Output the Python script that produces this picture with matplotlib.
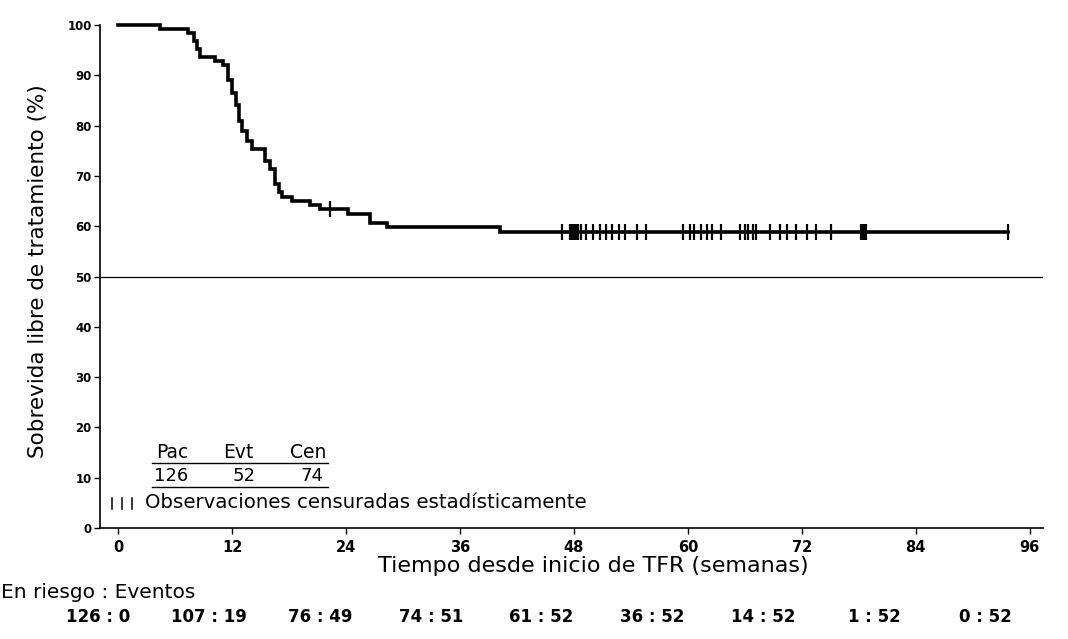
import numpy as np
import matplotlib
matplotlib.use("Agg")
import matplotlib.pyplot as plt
from matplotlib.lines import Line2D

# ---------------- data ----------------
step_times = [0, 4.4, 7.4, 8.0, 8.3, 8.6, 10.2, 11.0, 11.6, 12.0, 12.4, 12.7, 13.1,
              13.6, 14.1, 15.5, 16.0, 16.5, 17.0, 17.3, 18.3, 20.2, 21.3, 24.2,
              26.5, 28.3, 40.2]
step_surv = [100, 99.2, 98.4, 96.8, 95.2, 93.7, 92.9, 92.1, 89.0, 86.5, 84.1, 81.0,
             79.0, 77.0, 75.4, 73.0, 71.4, 68.3, 66.7, 65.9, 65.1, 64.3, 63.5, 62.4,
             60.7, 59.9, 58.8]
end_time = 93.7
censor_times = [22.3, 46.7, 47.6, 47.8, 48.0, 48.2, 48.4, 48.8, 49.3, 50.0, 50.7,
                51.4, 52.0, 52.7, 53.4, 54.6, 55.6, 59.5, 60.2, 60.7, 61.4, 62.0,
                62.5, 63.5, 65.5, 66.0, 66.3, 66.9, 67.2, 68.6, 69.7, 70.4, 71.4,
                72.5, 73.5, 75.1, 78.2, 78.4, 78.6, 78.8, 93.7]
ref_level = 50
x_ticks = [0, 12, 24, 36, 48, 60, 72, 84, 96]
y_ticks = [0, 10, 20, 30, 40, 50, 60, 70, 80, 90, 100]
risk_at = [126, 107, 76, 74, 61, 36, 14, 1, 0]
events_at = [0, 19, 49, 51, 52, 52, 52, 52, 52]
table_header = ["Pac", "Evt", "Cen"]
table_values = [126, 52, 74]

W, H = 1068, 639
fig = plt.figure(figsize=(W / 100, H / 100), dpi=100)

def fx(x):
    return x / W

def fy(y):
    return 1 - y / H

# axes: y-axis at x=100, right end 1043; bottom 528, top 25
ax = fig.add_axes([fx(100), fy(528), fx(1043) - fx(100), fy(25) - fy(528)])
ax.set_xlim(-1.9, 97.4)
ax.set_ylim(0, 100)

# KM step curve
t = list(step_times) + [end_time]
s = list(step_surv) + [step_surv[-1]]
ax.step(t, s, where="post", color="black", lw=2.6, solid_joinstyle="miter",
        clip_on=False)

# censor marks
st = np.array(step_times)
sv = np.array(step_surv)
cvals = [sv[np.searchsorted(st, c, side="right") - 1] for c in censor_times]
ax.plot(censor_times, cvals, ls="none", marker="|", ms=11, mew=1.6, color="black")

# reference line
ax.axhline(ref_level, color="black", lw=0.9)

for sp in ["top", "right"]:
    ax.spines[sp].set_visible(False)
ax.spines["left"].set_linewidth(1.2)
ax.spines["bottom"].set_linewidth(1.2)

ax.set_xticks(x_ticks)
ax.set_yticks(y_ticks)
ax.tick_params(axis="y", length=4, width=1, labelsize=8.5, pad=2)
ax.tick_params(axis="x", length=4, width=1, labelsize=10.5, pad=5)
for lab in ax.get_xticklabels() + ax.get_yticklabels():
    lab.set_fontweight("bold")

# axis labels
fig.text(fx(38), fy(271), "Sobrevida libre de tratamiento (%)", rotation=90,
         ha="center", va="center", fontsize=15.5)
fig.text(fx(593), fy(566), "Tiempo desde inicio de TFR (semanas)",
         ha="center", va="center", fontsize=16)

# summary table
hx = [172, 238, 308]
vx = [171, 244, 312]
for h, x in zip(table_header, hx):
    fig.text(fx(x), fy(452), h, ha="center", va="center", fontsize=13.5)
for v, x in zip(table_values, vx):
    fig.text(fx(x), fy(476), str(v), ha="center", va="center", fontsize=13)
for yy in [463, 487]:
    fig.add_artist(Line2D([fx(152), fx(328)], [fy(yy), fy(yy)], color="black", lw=1))

# censor legend
for mx in [112, 122, 132]:
    fig.add_artist(Line2D([fx(mx), fx(mx)], [fy(498), fy(509)], color="black", lw=1.1))
fig.text(fx(145), fy(503), "Observaciones censuradas estadísticamente",
         ha="left", va="center", fontsize=14.2)

# risk table
fig.text(fx(1), fy(593), "En riesgo : Eventos", ha="left", va="center", fontsize=14.5)
for i, (r, e) in enumerate(zip(risk_at, events_at)):
    cx = 98 + i * 110.9
    fig.text(fx(cx), fy(617), f"{r} : {e}", ha="center", va="center",
             fontsize=12, fontweight="bold")

fig.savefig("out.png", dpi=100)
